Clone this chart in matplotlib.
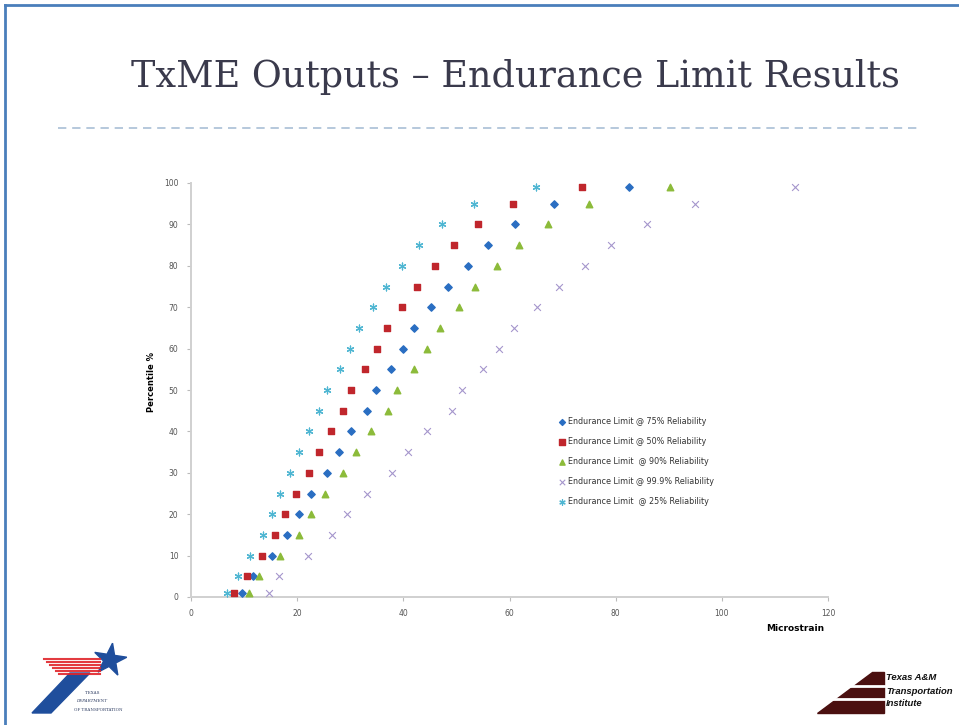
import numpy as np
import matplotlib
matplotlib.use("Agg")
import matplotlib.pyplot as plt
from matplotlib.patches import Polygon

# percentiles
pct = [1, 5, 10, 15, 20, 25, 30, 35, 40, 45, 50, 55, 60, 65, 70, 75, 80, 85, 90, 95, 99]

# microstrain values per reliability level
el_75 = [9.6, 11.7, 15.3, 18.1, 20.3, 22.7, 25.7, 27.9, 30.2, 33.2, 34.8,
         37.7, 40.0, 42.1, 45.3, 48.4, 52.1, 56.0, 61.1, 68.3, 82.5]
el_50 = [8.1, 10.5, 13.3, 15.9, 17.8, 19.8, 22.2, 24.2, 26.3, 28.6, 30.1,
         32.8, 35.0, 36.9, 39.8, 42.5, 46.0, 49.5, 54.1, 60.7, 73.6]
el_90 = [10.9, 12.8, 16.8, 20.3, 22.6, 25.2, 28.6, 31.1, 33.9, 37.1, 38.9,
         42.1, 44.5, 46.9, 50.4, 53.5, 57.7, 61.8, 67.2, 75.0, 90.2]
el_999 = [14.7, 16.6, 22.1, 26.6, 29.3, 33.1, 37.9, 40.8, 44.4, 49.1, 51.0,
          55.1, 58.0, 60.9, 65.2, 69.3, 74.2, 79.1, 85.9, 95.0, 113.7]
el_25 = [6.8, 8.9, 11.2, 13.5, 15.3, 16.8, 18.7, 20.4, 22.2, 24.2, 25.7,
         28.1, 29.9, 31.7, 34.2, 36.8, 39.8, 43.0, 47.2, 53.3, 64.9]

labels = ["Endurance Limit @ 75% Reliability",
          "Endurance Limit @ 50% Reliability",
          "Endurance Limit  @ 90% Reliability",
          "Endurance Limit @ 99.9% Reliability",
          "Endurance Limit  @ 25% Reliability"]

W, H = 959, 725
fig = plt.figure(figsize=(W / 100, H / 100), dpi=100)
fig.patch.set_facecolor("white")

# overlay for slide decorations, pixel coords
deco = fig.add_axes([0, 0, 1, 1])
deco.set_xlim(0, W)
deco.set_ylim(H, 0)
deco.axis("off")

# slide border (blue, top + left)
deco.plot([5, W], [5, 5], color="#4a7ebb", lw=2)
deco.plot([5, 5], [5, H], color="#4a7ebb", lw=2)

# title + dashed rule
deco.text(515, 77, "TxME Outputs \u2013 Endurance Limit Results", family="DejaVu Serif",
          fontsize=26.3, color="#3a3a4c", ha="center", va="center")
deco.plot([58, 922], [128, 128], color="#a9bfd6", lw=1.2, dashes=(5, 3.5))

# TxDOT logo (rough)
for i, y in enumerate(np.arange(659, 675, 3)):
    deco.plot([44 + i * 3, 100], [y, y], color="#e0252b", lw=1.5, alpha=0.9)
deco.add_patch(Polygon([(32, 713), (51, 713), (90, 673), (70, 673)], closed=True,
                       color="#1f4e9c"))
star_pts = []
for k in range(10):
    r = 17 if k % 2 == 0 else 6.5
    a = np.pi / 2 - 0.15 + k * np.pi / 5
    star_pts.append((110 + r * np.cos(a), 660 - r * np.sin(a)))
deco.add_patch(Polygon(star_pts, closed=True, color="#1f4e9c"))
deco.text(92, 693, "TEXAS", family="DejaVu Serif", fontsize=3, color="#2b3a60",
          ha="center", va="center")
deco.text(92, 701, "DEPARTMENT", family="DejaVu Serif", fontsize=3, color="#2b3a60",
          ha="center", va="center", style="italic")
deco.text(98, 710, "OF TRANSPORTATION", family="DejaVu Serif", fontsize=3, color="#2b3a60",
          ha="center", va="center")

# TTI logo (rough)
deco.add_patch(Polygon([(817, 713), (884, 713), (884, 672), (872, 672)], closed=True,
                       color="#4b1010"))
deco.plot([846, 884], [686, 686], color="white", lw=2)
deco.plot([832, 884], [699, 699], color="white", lw=2)
for y, s in [(678, "Texas A&M"), (691, "Transportation"), (704, "Institute")]:
    deco.text(886, y, s, family="Liberation Sans", fontsize=6.8, weight="bold",
              style="italic", color="#111111", ha="left", va="center")

# chart axes
ax = fig.add_axes([191 / W, 1 - 597 / H, (828 - 191) / W, (597 - 183) / H])
ax.set_xlim(0, 120)
ax.set_ylim(0, 100)
ax.set_facecolor("none")

series = [
    (el_75, dict(marker="D", s=14, color="#2a6ec2")),
    (el_50, dict(marker="s", s=24, color="#c0262c")),
    (el_90, dict(marker="^", s=22, color="#8cbb3a")),
    (el_999, dict(marker="x", s=24, color="#a596cc", linewidths=0.8)),
    (el_25, dict(marker=(6, 2, 0), s=24, color="#4fb6d2", linewidths=0.9)),
]
handles = []
for (vals, kw), lab in zip(series, labels):
    h = ax.scatter(vals, pct, label=lab, clip_on=False, zorder=3, **kw)
    handles.append(h)

ax.set_xticks(np.arange(0, 121, 20))
ax.set_yticks(np.arange(0, 101, 10))
for sp in ["top", "right"]:
    ax.spines[sp].set_visible(False)
for sp in ["left", "bottom"]:
    ax.spines[sp].set_color("#d0d0d0")
    ax.spines[sp].set_linewidth(1.4)
ax.tick_params(axis="both", labelsize=5.5, labelcolor="#555555", color="#bbbbbb",
               length=3, width=0.8, pad=6)

ax.set_ylabel("Percentile %", fontsize=6, weight="bold")
ax.yaxis.set_label_coords(-0.055, 0.52)
ax.set_xlabel("Microstrain", fontsize=6.5, weight="bold")
ax.xaxis.set_label_coords(0.948, -0.065)

leg = ax.legend(handles=handles, loc="upper left",
                bbox_to_anchor=((556 - 191) / 637, (597 - 414) / 414),
                frameon=False, fontsize=5.8, handlelength=0.6, handletextpad=0.5,
                labelspacing=1.35, borderaxespad=0, markerscale=0.8)
for t in leg.get_texts():
    t.set_color("#333333")

fig.savefig("out.png", dpi=100)
